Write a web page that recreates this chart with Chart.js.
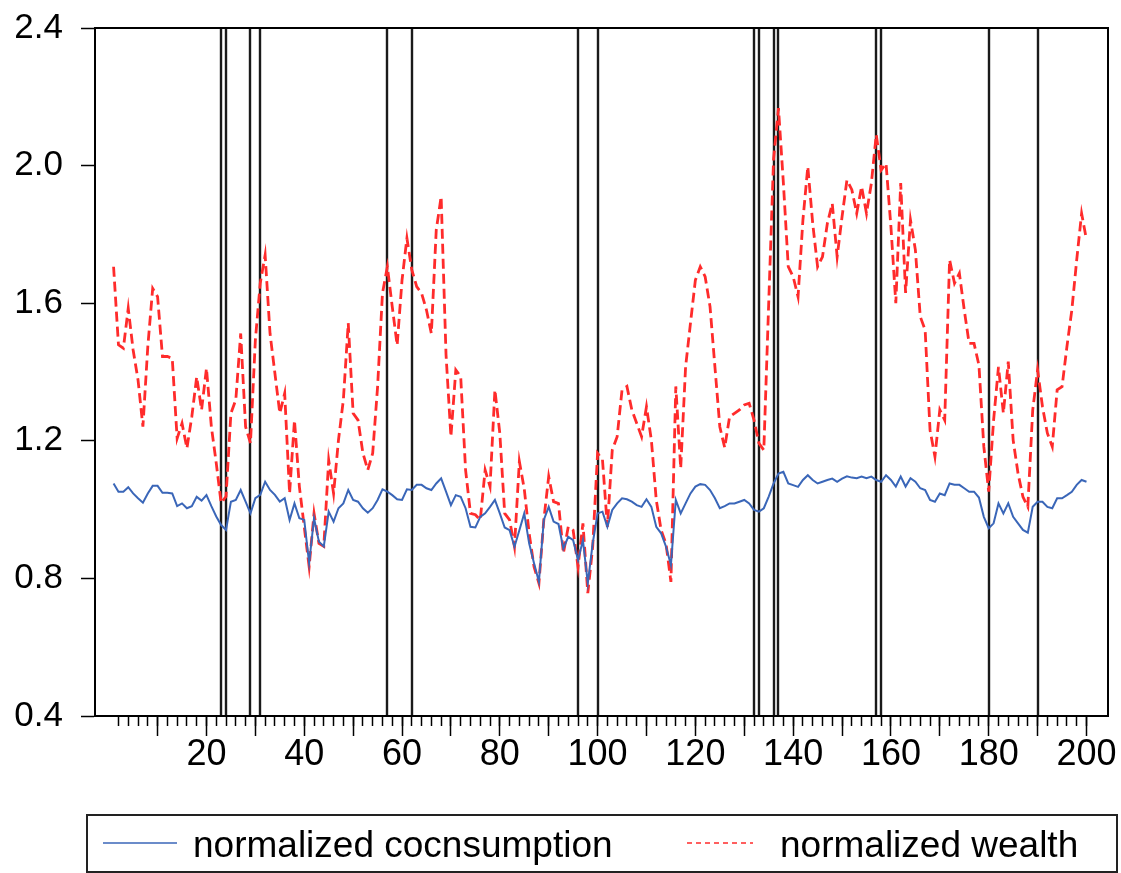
<!DOCTYPE html>
<html>
<head>
<meta charset="utf-8">
<title>normalized consumption and wealth</title>
<script src="https://cdn.jsdelivr.net/npm/chart.js@4/dist/chart.umd.min.js"></script>
<style>
  html, body { margin: 0; padding: 0; background: #fff; }
  #wrap { width: 1121px; height: 873px; position: relative; }
</style>
</head>
<body>
<div id="wrap"><canvas id="chart"></canvas></div>
<script>
// observations 1..200
const seriesNames = ['normalized cocnsumption', 'normalized wealth'];

const consumption = [
  1.076, 1.052, 1.052, 1.065, 1.047, 1.033, 1.020, 1.047, 1.069, 1.069,
  1.049, 1.049, 1.047, 1.010, 1.018, 1.004, 1.010, 1.037, 1.026, 1.042,
  1.010, 0.980, 0.955, 0.941, 1.023, 1.028, 1.057, 1.023, 0.989, 1.033,
  1.043, 1.081, 1.057, 1.043, 1.023, 1.033, 0.970, 1.018, 0.975, 0.970,
  0.844, 0.975, 0.907, 0.893, 0.994, 0.965, 1.004, 1.018, 1.057, 1.028,
  1.023, 1.004, 0.991, 1.004, 1.028, 1.059, 1.052, 1.042, 1.030, 1.028,
  1.059, 1.057, 1.072, 1.072, 1.062, 1.057, 1.076, 1.091, 1.052, 1.013,
  1.042, 1.037, 1.004, 0.950, 0.948, 0.979, 0.989, 1.008, 1.028, 0.989,
  0.948, 0.940, 0.892, 0.940, 0.989, 0.902, 0.844, 0.790, 0.970, 1.008,
  0.965, 0.958, 0.887, 0.921, 0.911, 0.853, 0.911, 0.786, 0.902, 0.989,
  0.994, 0.950, 0.999, 1.018, 1.033, 1.030, 1.023, 1.013, 1.008, 1.030,
  1.008, 0.950, 0.931, 0.892, 0.839, 1.028, 0.989, 1.018, 1.047, 1.067,
  1.074, 1.072, 1.057, 1.033, 1.004, 1.010, 1.018, 1.018, 1.023, 1.028,
  1.018, 0.999, 0.994, 1.004, 1.038, 1.076, 1.105, 1.110, 1.076, 1.071,
  1.066, 1.086, 1.100, 1.086, 1.076, 1.081, 1.086, 1.090, 1.081, 1.090,
  1.097, 1.093, 1.091, 1.096, 1.091, 1.096, 1.086, 1.081, 1.100, 1.086,
  1.067, 1.096, 1.067, 1.091, 1.081, 1.062, 1.057, 1.028, 1.023, 1.047,
  1.042, 1.076, 1.072, 1.072, 1.062, 1.052, 1.052, 1.035, 0.979, 0.946,
  0.960, 1.018, 0.989, 1.018, 0.979, 0.960, 0.941, 0.933, 1.008, 1.023,
  1.023, 1.008, 1.004, 1.033, 1.033, 1.042, 1.052, 1.072, 1.086, 1.081
];

const wealth = [
  1.706, 1.479, 1.469, 1.585, 1.464, 1.377, 1.241, 1.474, 1.643, 1.619,
  1.445, 1.445, 1.440, 1.207, 1.251, 1.178, 1.270, 1.386, 1.290, 1.411,
  1.241, 1.135, 1.019, 1.038, 1.280, 1.319, 1.512, 1.241, 1.193, 1.493,
  1.658, 1.740, 1.512, 1.396, 1.280, 1.338, 1.047, 1.260, 1.067, 0.950,
  0.834, 0.989, 0.902, 0.893, 1.144, 1.047, 1.202, 1.319, 1.542, 1.280,
  1.260, 1.164, 1.115, 1.164, 1.357, 1.629, 1.706, 1.590, 1.478, 1.667,
  1.789, 1.697, 1.648, 1.629, 1.580, 1.512, 1.813, 1.910, 1.450, 1.212,
  1.406, 1.387, 1.115, 0.989, 0.985, 0.970, 1.115, 1.067, 1.348, 1.222,
  0.989, 0.970, 0.892, 1.140, 1.060, 0.931, 0.834, 0.786, 0.970, 1.096,
  1.023, 1.018, 0.873, 0.950, 0.940, 0.834, 0.960, 0.757, 0.892, 1.164,
  1.145, 0.950, 1.173, 1.212, 1.348, 1.358, 1.290, 1.251, 1.212, 1.299,
  1.202, 1.028, 0.940, 0.900, 0.790, 1.358, 1.120, 1.415, 1.542, 1.667,
  1.706, 1.677, 1.590, 1.415, 1.241, 1.180, 1.270, 1.280, 1.290, 1.304,
  1.309, 1.260, 1.193, 1.173, 1.600, 2.020, 2.167, 1.950, 1.706, 1.677,
  1.619, 1.842, 1.997, 1.832, 1.706, 1.735, 1.832, 1.890, 1.735, 1.851,
  1.958, 1.930, 1.861, 1.939, 1.861, 1.949, 2.090, 1.987, 2.006, 1.822,
  1.600, 1.949, 1.630, 1.842, 1.755, 1.561, 1.522, 1.231, 1.154, 1.290,
  1.260, 1.726, 1.658, 1.687, 1.580, 1.483, 1.483, 1.420, 1.183, 1.052,
  1.260, 1.415, 1.280, 1.430, 1.202, 1.105, 1.037, 1.008, 1.289, 1.406,
  1.299, 1.222, 1.183, 1.348, 1.357, 1.474, 1.580, 1.726, 1.861, 1.784
];

// observations marked with a vertical line
const breakDates = [23, 24, 29, 31, 57, 62, 96, 100, 132, 133, 136, 137, 157, 158, 180, 190];

const xTickLabels = [20, 40, 60, 80, 100, 120, 140, 160, 180, 200];
const yTickValues = [0.4, 0.8, 1.2, 1.6, 2.0, 2.4];

const FONT = '"Liberation Sans", Arial, sans-serif';

const toPoints = arr => arr.map((v, i) => ({ x: i + 1, y: v }));

// vertical break lines, drawn under the series
const breakLines = {
  id: 'breakLines',
  beforeDatasetsDraw(chart) {
    const { ctx, chartArea } = chart;
    const xs = chart.scales.x;
    ctx.save();
    ctx.strokeStyle = '#1a1a1a';
    ctx.lineWidth = 2.4;
    breakDates.forEach(d => {
      const px = Math.round(xs.getPixelForValue(d));
      ctx.beginPath();
      ctx.moveTo(px, chartArea.top);
      ctx.lineTo(px, chartArea.bottom);
      ctx.stroke();
    });
    ctx.restore();
  }
};

// frame round the plot and the boxed legend underneath
const frameAndLegend = {
  id: 'frameAndLegend',
  afterDraw(chart) {
    const { ctx, chartArea } = chart;
    ctx.save();
    ctx.strokeStyle = '#000';
    ctx.lineWidth = 2;
    ctx.strokeRect(chartArea.left, chartArea.top,
      chartArea.right - chartArea.left, chartArea.bottom - chartArea.top);

    const top = chartArea.bottom + 99;
    const left = chartArea.left - 8;
    ctx.strokeStyle = '#222';
    ctx.strokeRect(left, top, chart.width - 4 - left, 57);

    const items = [{ x: 103, w: 74, tx: 193 }, { x: 687, w: 66, tx: 780 }];
    chart.data.datasets.forEach((ds, i) => {
      const it = items[i];
      const y = top + 28;
      ctx.beginPath();
      ctx.strokeStyle = ds.borderColor;
      ctx.lineWidth = 1.6;
      ctx.setLineDash(ds.borderDash ? [5, 4] : []);
      ctx.moveTo(it.x, y);
      ctx.lineTo(it.x + it.w, y);
      ctx.stroke();
      ctx.setLineDash([]);
      ctx.fillStyle = '#000';
      ctx.font = '37px ' + FONT;
      ctx.textBaseline = 'alphabetic';
      ctx.fillText(ds.label, it.tx, top + 42);
    });
    ctx.restore();
  }
};

new Chart(document.getElementById('chart'), {
  type: 'line',
  data: {
    datasets: [
      {
        label: seriesNames[0],
        data: toPoints(consumption),
        borderColor: '#3a66b8',
        borderWidth: 2,
        pointRadius: 0,
        tension: 0
      },
      {
        label: seriesNames[1],
        data: toPoints(wealth),
        borderColor: '#ff2b2b',
        borderWidth: 2.8,
        borderDash: [10, 5],
        pointRadius: 0,
        tension: 0
      }
    ]
  },
  options: {
    responsive: true,
    maintainAspectRatio: false,
    animation: false,
    events: [],
    layout: { padding: { left: 0, top: 28, right: 13, bottom: 58 } },
    plugins: {
      legend: { display: false },
      tooltip: { enabled: false }
    },
    scales: {
      x: {
        type: 'linear',
        position: 'bottom',
        weight: 0,
        min: -2.8,
        max: 204.4,
        afterBuildTicks: s => { s.ticks = s.ticks.filter(t => t.value >= 2 && t.value <= 200); },
        afterFit: s => { s.height = 0; },
        ticks: { stepSize: 2, includeBounds: false, display: false, autoSkip: false },
        grid: { drawOnChartArea: false, drawTicks: true, tickLength: 10, tickColor: '#000', tickWidth: 1.5 },
        border: { display: true, color: '#000', width: 2 }
      },
      x2: {
        type: 'linear',
        position: 'bottom',
        weight: 1,
        min: -2.8,
        max: 204.4,
        afterBuildTicks: s => { s.ticks = s.ticks.filter(t => t.value >= 10 && t.value <= 200); },
        afterFit: s => { s.height = 99; },
        ticks: {
          stepSize: 10,
          includeBounds: false,
          autoSkip: false,
          maxRotation: 0,
          padding: -3,
          color: '#000',
          font: { family: FONT, size: 36 },
          callback: v => xTickLabels.includes(v) ? String(v) : ''
        },
        grid: { drawOnChartArea: false, drawTicks: true, tickLength: 20, tickColor: '#000', tickWidth: 1.5 },
        border: { display: false }
      },
      y: {
        min: 0.4,
        max: 2.4,
        afterBuildTicks: s => { s.ticks = yTickValues.map(v => ({ value: v })); },
        afterFit: s => { s.width = 95; s.paddingTop = 0; s.paddingBottom = 0; },
        ticks: {
          padding: 18,
          color: '#000',
          font: { family: FONT, size: 35 },
          callback: v => v.toFixed(1)
        },
        grid: { drawOnChartArea: false, drawTicks: true, tickLength: 14, tickColor: '#000', tickWidth: 1.5 },
        border: { display: true, color: '#000', width: 2 }
      }
    }
  },
  plugins: [breakLines, frameAndLegend]
});
</script>
</body>
</html>
